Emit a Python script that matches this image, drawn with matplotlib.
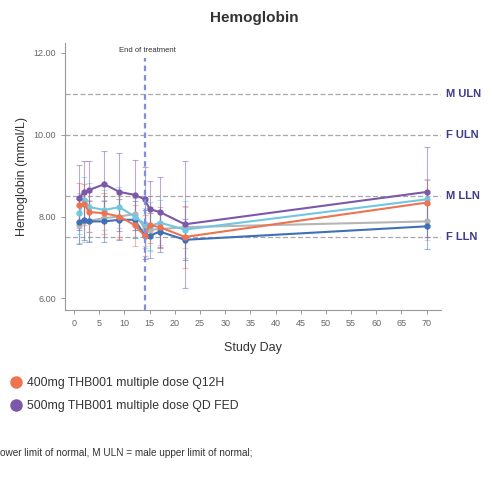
import matplotlib
matplotlib.use("Agg")
import matplotlib.pyplot as plt
from matplotlib.lines import Line2D

plt.rcParams["font.family"] = ["Liberation Sans", "DejaVu Sans"]

# =========================================================
# DATA
# =========================================================
days = [1, 2, 3, 6, 9, 12, 14, 15, 17, 22, 70]

gray_mean = [7.80, 7.88, 7.90, 7.96, 8.00, 8.06, 7.72, 7.68, 7.69, 7.74, 7.88]
gray_sd = [0.45, 0.50, 0.50, 0.45, 0.50, 0.40, 0.50, 0.50, 0.45, 0.50, 0.45]

blue_mean = [7.87, 7.92, 7.88, 7.88, 7.92, 7.92, 7.55, 7.53, 7.63, 7.43, 7.76]
blue_sd = [0.55, 0.50, 0.50, 0.50, 0.50, 0.45, 0.60, 0.55, 0.50, 0.50, 0.55]

cyan_mean = [8.08, 8.41, 8.23, 8.16, 8.23, 8.00, 7.82, 7.76, 7.85, 7.68, 8.42]
cyan_sd = [0.50, 0.55, 0.60, 0.50, 0.50, 0.50, 0.55, 0.60, 0.55, 0.70, 0.50]

orange_mean = [8.28, 8.30, 8.11, 8.08, 8.00, 7.79, 7.53, 7.79, 7.74, 7.50, 8.34]
orange_sd = [0.55, 0.50, 0.50, 0.50, 0.55, 0.50, 0.50, 0.45, 0.50, 0.75, 0.55]

purple_mean = [8.46, 8.60, 8.65, 8.79, 8.60, 8.53, 8.42, 8.18, 8.11, 7.81, 8.60]
purple_sd = [0.80, 0.75, 0.70, 0.80, 0.95, 0.85, 0.80, 0.70, 0.85, 1.55, 1.10]

legend_labels = ["400mg THB001 multiple dose Q12H", "500mg THB001 multiple dose QD FED"]

ref_values = [11.0, 10.0, 8.5, 7.5]
ref_labels = ["M ULN", "F ULN", "M LLN", "F LLN"]

end_of_treatment_day = 14

footnote = "ower limit of normal, M ULN = male upper limit of normal;"

# =========================================================
# PLOT
# =========================================================
fig = plt.figure(figsize=(4.93, 4.84), dpi=100)
ax = fig.add_axes([0.132, 0.360, 0.762, 0.551])

series = [
    (gray_mean, gray_sd, "#b5b5b5"),
    (blue_mean, blue_sd, "#3f6fb8"),
    (cyan_mean, cyan_sd, "#72c7df"),
    (orange_mean, orange_sd, "#ee7451"),
    (purple_mean, purple_sd, "#7c58a8"),
]

for mean, sd, color in series:
    ax.errorbar(days, mean, yerr=sd, fmt="none", ecolor=color, elinewidth=0.8,
                capsize=2, capthick=0.8, alpha=0.5, zorder=2)
    ax.plot(days, mean, color=color, lw=1.5, marker="o", markersize=3.5, zorder=3)

for val, lab in zip(ref_values, ref_labels):
    ax.axhline(val, color="#a8a8a8", lw=0.9, ls=(0, (4, 2)), zorder=1)
    ax.text(73.8, val, lab, color="#3c3a8e", fontsize=8, fontweight="bold",
            va="center", ha="left", clip_on=False)

ax.plot([end_of_treatment_day, end_of_treatment_day], [5.72, 11.87],
        color="#7f8fe0", lw=1.6, ls=(0, (2.5, 1.8)), zorder=4)
ax.text(end_of_treatment_day + 0.6, 12.05, "End of treatment", fontsize=5.5,
        color="#333333", ha="center", va="center")

ax.set_xlim(-1.8, 72.8)
ax.set_ylim(5.72, 12.24)
ax.set_xticks(range(0, 71, 5))
ax.set_yticks([6, 8, 10, 12])
ax.set_yticklabels(["6.00", "8.00", "10.00", "12.00"])
ax.tick_params(axis="both", labelsize=6.5, colors="#888888", labelcolor="#666666",
               length=3, width=0.6)

for side in ["top", "right"]:
    ax.spines[side].set_visible(False)
for side in ["left", "bottom"]:
    ax.spines[side].set_color("#999999")
    ax.spines[side].set_linewidth(0.8)

ax.set_xlabel("Study Day", fontsize=9, color="#333333", labelpad=10)
ax.set_ylabel("Hemoglobin (mmol/L)", fontsize=9, color="#333333", labelpad=4)

fig.text(0.515, 0.962, "Hemoglobin", fontsize=11, fontweight="bold",
         color="#333333", ha="center", va="center")

# legend (visible part)
handles = [
    Line2D([], [], ls="none", marker="o", markersize=8, color="#ee7451"),
    Line2D([], [], ls="none", marker="o", markersize=8, color="#7c58a8"),
]
fig.legend(handles, legend_labels, loc="upper left", bbox_to_anchor=(-0.005, 0.243),
           frameon=False, fontsize=8.8, handletextpad=0.3, labelspacing=0.9,
           handlelength=1.2, labelcolor="#333333")

fig.text(0.0, 0.064, footnote, fontsize=7.2, color="#333333", ha="left", va="center")

fig.savefig("out.png", dpi=100)
